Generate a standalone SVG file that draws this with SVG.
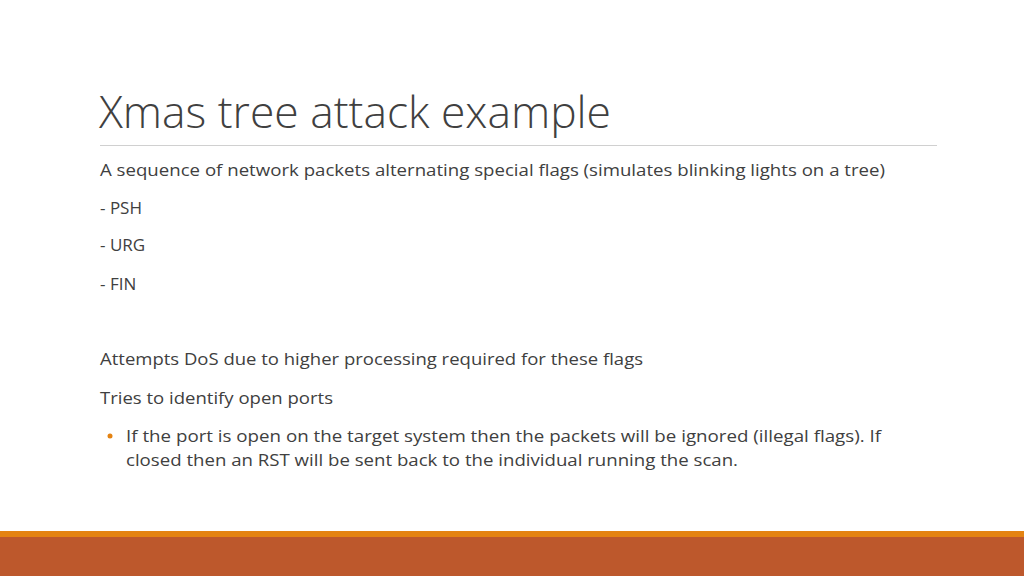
<svg xmlns="http://www.w3.org/2000/svg" width="1024" height="576" viewBox="0 0 1024 576">
<style>
.t{font-family:"Open Sans","Liberation Sans",sans-serif;font-weight:300;font-size:44px;fill:#404040}
.b{font-family:"Open Sans","Liberation Sans",sans-serif;font-size:17px;fill:#404040}
</style>
<rect width="1024" height="576" fill="#fff"/>
<text class="t" x="99" y="128" textLength="512" lengthAdjust="spacingAndGlyphs">Xmas tree attack example</text>
<line x1="100" y1="145.500" x2="937" y2="145.500" stroke="#d0d0d0" stroke-width="1"/>
<text class="b" x="100" y="176" textLength="785" lengthAdjust="spacingAndGlyphs">A sequence of network packets alternating special flags (simulates blinking lights on a tree)</text>
<text class="b" x="100" y="214">- PSH</text>
<text class="b" x="100" y="251">- URG</text>
<text class="b" x="100" y="290">- FIN</text>
<text class="b" x="100" y="365" textLength="543" lengthAdjust="spacingAndGlyphs">Attempts DoS due to higher processing required for these flags</text>
<text class="b" x="100" y="404" textLength="233" lengthAdjust="spacingAndGlyphs">Tries to identify open ports</text>
<circle cx="110" cy="436" r="2.500" fill="#e48312"/>
<text class="b" x="126" y="442" textLength="755" lengthAdjust="spacingAndGlyphs">If the port is open on the target system then the packets will be ignored (illegal flags). If</text>
<text class="b" x="126" y="466" textLength="612" lengthAdjust="spacingAndGlyphs">closed then an RST will be sent back to the individual running the scan.</text>
<rect x="0" y="531" width="1024" height="6" fill="#e48312"/>
<rect x="0" y="537" width="1024" height="39" fill="#bd582c"/>
</svg>
